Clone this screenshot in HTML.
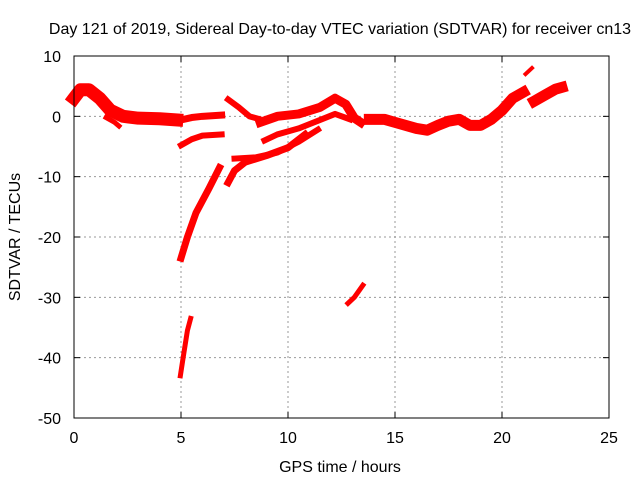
<!DOCTYPE html>
<html><head><meta charset="utf-8"><style>
body{margin:0;background:#fff;}
svg{display:block;font-family:"Liberation Sans",sans-serif;}
</style></head><body>
<svg id="chart" width="640" height="480">
<rect x="0" y="0" width="640" height="480" fill="#fff"/>
<text x="340" y="34" text-anchor="middle" font-size="16">Day 121 of 2019, Sidereal Day-to-day VTEC variation (SDTVAR) for receiver cn13</text>
<text x="340" y="472" text-anchor="middle" font-size="16">GPS time / hours</text>
<text transform="translate(20,237) rotate(-90)" text-anchor="middle" font-size="16">SDTVAR / TECUs</text>
<g id="grid"></g><g id="series"></g>
<rect x="74" y="56" width="535" height="362" fill="none" stroke="#000" stroke-width="1"/>
</svg>
<script>
const xTicks=[0,5,10,15,20,25];
const yTicks=[10,0,-10,-20,-30,-40,-50];
const track1=[[0,3],[0.3,4.4],[0.7,4.4],[1.2,3],[1.7,1],[2.3,0],[3,-0.3],[4,-0.4],[4.8,-0.6]];
const track1b=[[1.5,-0.2],[1.9,-1],[2.1,-1.6]];
const track2=[[5,-0.6],[5.5,-0.2],[6,0],[6.9,0.2]];
const track3=[[5,-4.8],[5.5,-3.8],[6,-3.2],[6.9,-3]];
const track4=[[7.2,2.8],[7.7,1.5],[8.2,0],[8.6,-0.4]];
const track5=[[8.7,-1],[9.5,0],[10.5,0.4],[11.5,1.5],[12.2,3],[12.7,2],[13.1,-0.3],[13.4,-1]];
const track6=[[8.9,-4],[9.5,-3],[10.5,-2],[11.5,-0.6],[12.2,0.4],[12.9,-0.5]];
const track7=[[7.2,-11],[7.5,-9],[8,-7.6],[9,-6.5],[10,-5.2],[10.8,-3]];
const track8=[[7.5,-7],[8.5,-6.8],[9.5,-6],[10.5,-4.2],[11.4,-2.2]];
const track9=[[5,-23.5],[5.3,-20],[5.7,-16],[6.3,-12],[6.8,-8.5]];
const track10=[[4.97,-43],[5.1,-40],[5.3,-35.5],[5.45,-33.5]];
const track11=[[12.8,-31],[13.1,-30],[13.5,-28]];
const track12=[[13.8,-0.5],[14.5,-0.5],[15,-1],[16,-2],[16.5,-2.3],[17,-1.5],[17.5,-0.8],[18,-0.5],[18.5,-1.5],[19,-1.5],[19.5,-0.5],[20,1],[20.5,3],[21,4]];
const track13=[[21.1,7],[21.4,8]];
const track14=[[21.5,2.5],[22,3.5],[22.5,4.5],[22.8,4.8]];
const tracks=[track1,track1b,track2,track3,track4,track5,track6,track7,track8,track9,track10,track11,track12,track13,track14];
const widths=[13,5,7,6,6,9,6,7,6,7,5,5,11,4,11];
const NS='http://www.w3.org/2000/svg';
const X=t=>74+t*535/25, Y=v=>56+(10-v)*362/60;
const grid=document.getElementById('grid'), ser=document.getElementById('series');
function mk(tag,attrs,parent){const e=document.createElementNS(NS,tag);for(const k in attrs)e.setAttribute(k,attrs[k]);parent.appendChild(e);return e;}
xTicks.forEach(t=>{
 if(t>0&&t<25){const l=mk('line',{x1:X(t),x2:X(t),y1:56,y2:418,stroke:'#999','stroke-dasharray':'2,3'},grid);
 }
 const tx=mk('text',{x:X(t),y:443,'text-anchor':'middle','font-size':16},grid);tx.textContent=t;
 
 mk('line',{x1:X(t),x2:X(t),y1:418,y2:412,stroke:'#000'},grid);mk('line',{x1:X(t),x2:X(t),y1:56,y2:62,stroke:'#000'},grid);
});
yTicks.forEach(v=>{
 if(v<10&&v>-50){const l=mk('line',{x1:74,x2:609,y1:Y(v),y2:Y(v),stroke:'#999','stroke-dasharray':'2,3'},grid);
 }
 const tx=mk('text',{x:61,y:Y(v)+6,'text-anchor':'end','font-size':16},grid);tx.textContent=v;
 
 mk('line',{x1:74,x2:80,y1:Y(v),y2:Y(v),stroke:'#000'},grid);mk('line',{x1:609,x2:603,y1:Y(v),y2:Y(v),stroke:'#000'},grid);
});
tracks.forEach((tr,i)=>{
 const p=mk('polyline',{points:tr.map(d=>X(d[0])+','+Y(d[1])).join(' '),fill:'none',stroke:'#f00','stroke-width':widths[i],'stroke-linejoin':'round','stroke-linecap':'square'},ser);
 
 
});
</script>
</body></html>
